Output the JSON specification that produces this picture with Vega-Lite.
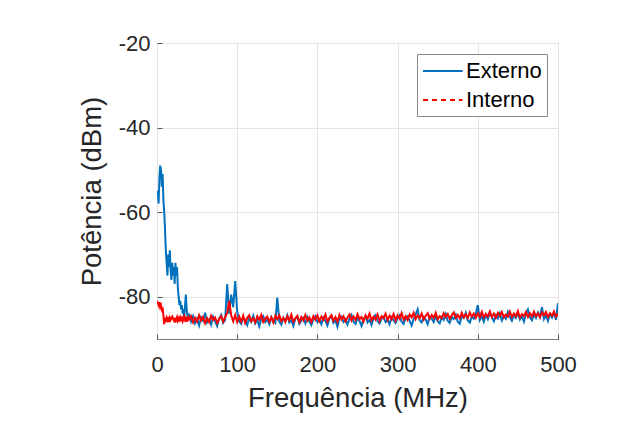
{
  "$schema": "https://vega.github.io/schema/vega-lite/v6.json",
  "width": 401,
  "height": 296,
  "autosize": "none",
  "padding": {"left": 157, "top": 43, "right": 71, "bottom": 87},
  "background": "white",
  "config": {
    "font": "Liberation Sans",
    "view": {"stroke": "#7a7a7a", "strokeWidth": 1},
    "axis": {
      "labelFont": "Liberation Sans", "labelFontSize": 22, "labelColor": "#262626",
      "titleFont": "Liberation Sans", "titleFontSize": 27.5, "titleFontWeight": "normal", "titleColor": "#262626",
      "gridColor": "#e3e3e3", "gridWidth": 1, "domain": false,
      "tickColor": "#555555", "tickSize": -5, "tickWidth": 1
    },
    "legend": {
      "orient": "top-right", "offset": 11, "padding": 5,
      "strokeColor": "#8a8a8a", "fillColor": "white",
      "labelFont": "Liberation Sans", "labelFontSize": 22, "labelColor": "#000000",
      "symbolType": "M-1,0H2.6", "symbolSize": 484, "symbolStrokeWidth": 2,
      "labelOffset": 20, "rowPadding": 6
    }
  },
  "data": {"values": [
    {"f":0,"e":-56,"i":-81},{"f":1,"e":-55,"i":-81.5},{"f":2,"e":-58,"i":-82},{"f":3,"e":-52,"i":-81.3},{"f":4,"e":-49,"i":-82.5},
    {"f":5,"e":-50,"i":-82},{"f":6,"e":-54,"i":-83},{"f":7,"e":-51,"i":-82.5},{"f":8,"e":-57,"i":-84.5},{"f":9,"e":-60,"i":-86.5},
    {"f":10,"e":-64,"i":-85},{"f":11,"e":-69,"i":-86},{"f":12,"e":-72,"i":-85},{"f":13,"e":-75,"i":-85.5},{"f":14,"e":-70,"i":-84.8},
    {"f":15,"e":-73,"i":-86},{"f":16,"e":-69,"i":-85},{"f":17,"e":-74,"i":-85.5},{"f":18,"e":-76,"i":-85},{"f":19,"e":-72,"i":-84.7},
    {"f":20,"e":-75,"i":-85.2},{"f":21,"e":-73,"i":-85.6},{"f":22,"e":-77,"i":-85.0},{"f":23,"e":-72,"i":-86.1},{"f":24,"e":-75,"i":-85.3},
    {"f":25,"e":-73,"i":-84.8},{"f":26,"e":-78,"i":-85.7},{"f":27,"e":-80,"i":-85.2},{"f":28,"e":-82,"i":-85.9},{"f":29,"e":-81,"i":-84.9},
    {"f":30,"e":-83,"i":-85.4},{"f":31,"e":-82,"i":-85.0},{"f":32,"e":-84,"i":-85.8},{"f":33,"e":-83,"i":-85.3},{"f":34,"e":-85,"i":-84.7},
    {"f":35,"e":-82,"i":-85.5},{"f":36,"e":-79.5,"i":-85.1},{"f":37,"e":-83,"i":-85.9},{"f":38,"e":-84.5,"i":-85.2},{"f":39,"e":-85.5,"i":-84.8},
    {"f":40,"e":-84,"i":-85.4},
    {"f":42.5,"e":-85.9,"i":-84.6},{"f":45,"e":-84.6,"i":-86.1},{"f":47.5,"e":-86.3,"i":-85.0},{"f":50,"e":-85.2,"i":-85.9},
    {"f":52.5,"e":-86.8,"i":-84.4},{"f":55,"e":-84.9,"i":-85.6},{"f":57.5,"e":-85.7,"i":-84.8},{"f":60,"e":-83.8,"i":-86.3},
    {"f":62.5,"e":-86.1,"i":-85.1},{"f":65,"e":-85.4,"i":-86.0},{"f":67.5,"e":-86.6,"i":-84.5},{"f":70,"e":-84.7,"i":-85.5},
    {"f":72.5,"e":-85.8,"i":-84.9},{"f":75,"e":-86.9,"i":-86.2},{"f":77.5,"e":-85.1,"i":-85.3},{"f":80,"e":-84.3,"i":-84.6},
    {"f":82.5,"e":-86.2,"i":-85.9},{"f":85,"e":-85.5,"i":-84.8},{"f":87.5,"e":-77.0,"i":-83.9},{"f":90,"e":-84.0,"i":-81.0},
    {"f":92.5,"e":-79.5,"i":-84.4},{"f":95,"e":-82.5,"i":-85.8},{"f":97.5,"e":-76.3,"i":-84.3},{"f":100,"e":-83.5,"i":-86.0},
    {"f":102.5,"e":-85.8,"i":-84.7},{"f":105,"e":-86.4,"i":-85.9},{"f":107.5,"e":-84.9,"i":-84.5},{"f":110,"e":-85.6,"i":-86.2},
    {"f":112.5,"e":-86.7,"i":-85.0},{"f":115,"e":-85.0,"i":-84.4},{"f":117.5,"e":-85.9,"i":-85.8},{"f":120,"e":-84.5,"i":-85.1},
    {"f":122.5,"e":-86.3,"i":-86.1},{"f":125,"e":-85.4,"i":-84.6},{"f":127.5,"e":-87.0,"i":-85.4},{"f":130,"e":-85.2,"i":-84.3},
    {"f":132.5,"e":-84.6,"i":-86.0},{"f":135,"e":-86.0,"i":-85.2},{"f":137.5,"e":-85.3,"i":-84.7},{"f":140,"e":-86.5,"i":-85.9},
    {"f":142.5,"e":-84.8,"i":-84.9},{"f":145,"e":-85.7,"i":-86.1},{"f":147.5,"e":-86.2,"i":-84.5},{"f":150,"e":-80.2,"i":-85.3},
    {"f":152.5,"e":-85.9,"i":-84.4},{"f":155,"e":-86.6,"i":-85.8},{"f":157.5,"e":-85.0,"i":-85.0},{"f":160,"e":-85.8,"i":-86.0},
    {"f":162.5,"e":-84.4,"i":-84.6},{"f":165,"e":-86.1,"i":-85.5},{"f":167.5,"e":-85.5,"i":-84.2},{"f":170,"e":-86.9,"i":-85.9},
    {"f":172.5,"e":-85.2,"i":-85.1},{"f":175,"e":-84.7,"i":-84.5},{"f":177.5,"e":-86.4,"i":-86.0},{"f":180,"e":-85.6,"i":-84.8},
    {"f":182.5,"e":-85.0,"i":-85.6},{"f":185,"e":-86.3,"i":-84.3},{"f":187.5,"e":-84.8,"i":-85.7},{"f":190,"e":-85.9,"i":-84.9},
    {"f":192.5,"e":-86.7,"i":-86.0},{"f":195,"e":-85.3,"i":-84.6},{"f":197.5,"e":-84.6,"i":-85.4},{"f":200,"e":-86.0,"i":-84.4},
    {"f":202.5,"e":-85.4,"i":-85.8},{"f":205,"e":-86.5,"i":-84.7},{"f":207.5,"e":-84.9,"i":-85.5},{"f":210,"e":-85.7,"i":-84.2},
    {"f":212.5,"e":-86.8,"i":-85.9},{"f":215,"e":-85.1,"i":-85.0},{"f":217.5,"e":-84.5,"i":-84.4},{"f":220,"e":-86.2,"i":-85.7},
    {"f":222.5,"e":-85.6,"i":-84.8},{"f":225,"e":-87.1,"i":-85.9},{"f":227.5,"e":-85.0,"i":-84.3},{"f":230,"e":-84.7,"i":-85.4},
    {"f":232.5,"e":-86.0,"i":-84.6},{"f":235,"e":-85.4,"i":-85.8},{"f":237.5,"e":-86.6,"i":-84.9},{"f":240,"e":-85.2,"i":-84.2},
    {"f":242.5,"e":-84.3,"i":-85.6},{"f":245,"e":-85.9,"i":-84.7},{"f":247.5,"e":-86.4,"i":-85.5},{"f":250,"e":-85.0,"i":-84.1},
    {"f":252.5,"e":-85.7,"i":-85.3},{"f":255,"e":-86.9,"i":-84.8},{"f":257.5,"e":-85.3,"i":-85.9},{"f":260,"e":-84.6,"i":-84.4},
    {"f":262.5,"e":-86.1,"i":-85.2},{"f":265,"e":-85.5,"i":-84.0},{"f":267.5,"e":-86.7,"i":-85.6},{"f":270,"e":-85.1,"i":-84.7},
    {"f":272.5,"e":-84.4,"i":-85.4},{"f":275,"e":-85.8,"i":-84.2},{"f":277.5,"e":-86.3,"i":-85.7},{"f":280,"e":-85.2,"i":-84.6},
    {"f":282.5,"e":-84.7,"i":-85.1},{"f":285,"e":-86.0,"i":-84.0},{"f":287.5,"e":-85.4,"i":-85.5},{"f":290,"e":-86.5,"i":-84.5},
    {"f":292.5,"e":-84.9,"i":-85.3},{"f":295,"e":-85.6,"i":-84.1},{"f":297.5,"e":-86.2,"i":-85.6},{"f":300,"e":-85.0,"i":-84.4},
    {"f":302.5,"e":-84.4,"i":-85.2},{"f":305,"e":-85.9,"i":-83.9},{"f":307.5,"e":-86.4,"i":-85.4},{"f":310,"e":-85.1,"i":-84.6},
    {"f":312.5,"e":-84.6,"i":-85.5},{"f":315,"e":-85.7,"i":-84.2},{"f":317.5,"e":-86.8,"i":-84.9},{"f":320,"e":-85.3,"i":-83.8},
    {"f":322.5,"e":-84.2,"i":-85.3},{"f":325,"e":-83.0,"i":-84.4},{"f":327.5,"e":-85.6,"i":-85.1},{"f":330,"e":-86.1,"i":-84.0},
    {"f":332.5,"e":-84.8,"i":-85.4},{"f":335,"e":-85.4,"i":-84.5},{"f":337.5,"e":-86.5,"i":-83.9},{"f":340,"e":-84.7,"i":-85.2},
    {"f":342.5,"e":-85.2,"i":-84.3},{"f":345,"e":-86.0,"i":-85.0},{"f":347.5,"e":-84.5,"i":-83.8},{"f":350,"e":-85.8,"i":-85.3},
    {"f":352.5,"e":-86.3,"i":-84.6},{"f":355,"e":-84.9,"i":-85.1},{"f":357.5,"e":-85.5,"i":-83.9},{"f":360,"e":-84.1,"i":-84.8},
    {"f":362.5,"e":-85.7,"i":-84.1},{"f":365,"e":-86.2,"i":-85.2},{"f":367.5,"e":-84.8,"i":-84.4},{"f":370,"e":-85.3,"i":-83.7},
    {"f":372.5,"e":-84.3,"i":-85.0},{"f":375,"e":-85.9,"i":-84.3},{"f":377.5,"e":-86.4,"i":-85.1},{"f":380,"e":-84.6,"i":-83.8},
    {"f":382.5,"e":-85.0,"i":-84.9},{"f":385,"e":-83.8,"i":-84.2},{"f":387.5,"e":-85.6,"i":-85.0},{"f":390,"e":-86.1,"i":-83.7},
    {"f":392.5,"e":-84.7,"i":-84.7},{"f":395,"e":-85.2,"i":-84.0},{"f":397.5,"e":-84.0,"i":-85.0},{"f":400,"e":-82.0,"i":-83.9},
    {"f":402.5,"e":-85.5,"i":-84.8},{"f":405,"e":-84.6,"i":-83.6},{"f":407.5,"e":-85.9,"i":-84.9},{"f":410,"e":-84.2,"i":-84.1},
    {"f":412.5,"e":-85.3,"i":-84.7},{"f":415,"e":-83.7,"i":-83.5},{"f":417.5,"e":-84.9,"i":-84.8},{"f":420,"e":-85.8,"i":-84.0},
    {"f":422.5,"e":-84.4,"i":-85.0},{"f":425,"e":-85.1,"i":-83.8},{"f":427.5,"e":-83.9,"i":-84.5},{"f":430,"e":-85.6,"i":-83.6},
    {"f":432.5,"e":-84.5,"i":-84.9},{"f":435,"e":-85.2,"i":-84.2},{"f":437.5,"e":-83.6,"i":-84.7},{"f":440,"e":-84.8,"i":-83.5},
    {"f":442.5,"e":-85.7,"i":-84.8},{"f":445,"e":-84.3,"i":-84.0},{"f":447.5,"e":-85.0,"i":-84.6},{"f":450,"e":-83.8,"i":-83.4},
    {"f":452.5,"e":-85.4,"i":-84.9},{"f":455,"e":-84.6,"i":-84.1},{"f":457.5,"e":-85.9,"i":-84.6},{"f":460,"e":-84.0,"i":-83.6},
    {"f":462.5,"e":-83.0,"i":-84.8},{"f":465,"e":-84.9,"i":-83.9},{"f":467.5,"e":-85.6,"i":-84.7},{"f":470,"e":-84.2,"i":-83.5},
    {"f":472.5,"e":-85.0,"i":-84.6},{"f":475,"e":-83.7,"i":-84.0},{"f":477.5,"e":-84.8,"i":-84.9},{"f":480,"e":-82.5,"i":-83.7},
    {"f":482.5,"e":-85.3,"i":-84.4},{"f":485,"e":-84.4,"i":-83.6},{"f":487.5,"e":-85.7,"i":-84.8},{"f":490,"e":-84.1,"i":-83.9},
    {"f":492.5,"e":-84.9,"i":-84.5},{"f":495,"e":-83.8,"i":-83.5},{"f":497.5,"e":-85.5,"i":-84.7},{"f":500,"e":-81.5,"i":-84.0}
  ]},
  "encoding": {
    "x": {"field": "f", "type": "quantitative",
      "scale": {"domain": [0, 500], "nice": false},
      "axis": {"title": "Frequência (MHz)", "values": [0, 100, 200, 300, 400, 500], "labelPadding": 20, "titlePadding": 9, "labelFlush": false}}
  },
  "layer": [
    {
      "mark": {"type": "line", "strokeWidth": 2, "clip": true},
      "encoding": {
        "y": {"field": "e", "type": "quantitative",
          "scale": {"domain": [-90, -20], "nice": false, "zero": false},
          "axis": {"title": "Potência (dBm)", "values": [-20, -40, -60, -80], "labelPadding": 12, "titlePadding": 12, "labelFlush": false,
            "labelExpr": "'-' + abs(datum.value)"}},
        "color": {"datum": "Externo", "type": "nominal",
          "scale": {"domain": ["Externo", "Interno"], "range": ["#0072BD", "#FF0000"]},
          "legend": {"title": null,
            "encode": {"symbols": {"update": {"strokeDash": {"signal": "datum.value == 'Interno' ? [5, 4] : [1, 0]"}}}}}}
      }
    },
    {
      "mark": {"type": "line", "strokeWidth": 2, "clip": true},
      "encoding": {
        "y": {"field": "i", "type": "quantitative"},
        "color": {"datum": "Interno", "type": "nominal"}
      }
    }
  ]
}
